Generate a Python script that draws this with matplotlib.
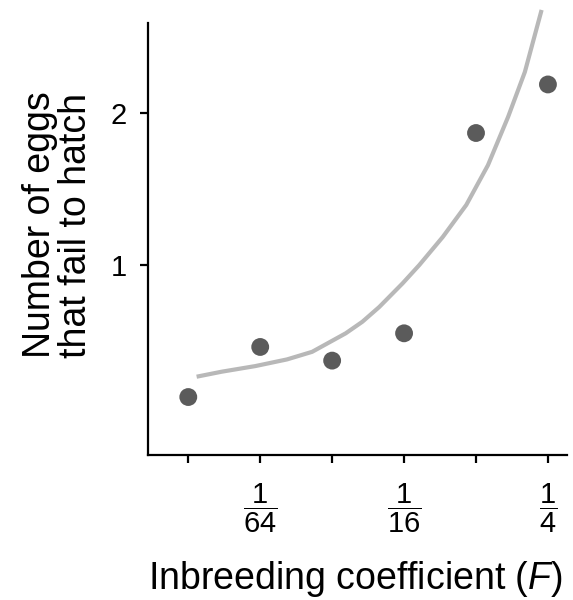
import numpy as np
import matplotlib
matplotlib.use("Agg")
import matplotlib.pyplot as plt

plt.rcParams.update({
    'font.family': 'Liberation Sans',
    'mathtext.fontset': 'custom',
    'mathtext.rm': 'Liberation Sans',
    'mathtext.it': 'Liberation Sans:italic',
    'font.size': 20,
})

# inbreeding coefficient F and mean eggs that fail to hatch
F_obs = [1/128, 1/64, 1/32, 1/16, 1/8, 1/4]
eggs_obs = [0.13, 0.46, 0.37, 0.55, 1.87, 2.19]

# fitted trend, read along its length
F_fit = [0.008466, 0.010784, 0.014906, 0.020236, 0.025774, 0.035622,
         0.041810, 0.049172, 0.061597, 0.072394, 0.090750, 0.113825,
         0.140250, 0.170288, 0.200125, 0.235200]
eggs_fit = [0.264, 0.297, 0.334, 0.378, 0.428, 0.550,
            0.626, 0.723, 0.879, 1.000, 1.185, 1.396,
            1.658, 1.976, 2.272, 2.681]

x_ticks = [1/128, 1/64, 1/32, 1/16, 1/8, 1/4]
x_labels = ['', r'$\dfrac{1}{64}$', '', r'$\dfrac{1}{16}$', '', r'$\dfrac{1}{4}$']

fig = plt.figure(figsize=(5.73, 6.0), dpi=100)
ax = fig.add_axes([148/573, 1 - 455/600, 419/573, 432/600])

ax.plot(F_fit, eggs_fit, color='#b8b8b8', lw=3.0, solid_capstyle='butt',
        solid_joinstyle='round', clip_on=False, zorder=2)
ax.scatter(F_obs, eggs_obs, s=165, color='#5b5b5b', edgecolors='none', zorder=3)

ax.set_xscale('log', base=2)
ax.set_xlim(2**-7.56, 2**-1.735)
ax.set_ylim(-0.252, 2.595)

ax.set_xticks(x_ticks)
ax.set_xticklabels(x_labels)
ax.xaxis.set_minor_locator(matplotlib.ticker.NullLocator())
ax.set_yticks([1, 2])
ax.set_yticklabels(['1', '2'])

for side in ('top', 'right'):
    ax.spines[side].set_visible(False)
for side in ('left', 'bottom'):
    ax.spines[side].set_linewidth(1.6)
ax.tick_params(direction='out', length=6, width=1.6, labelsize=21)
ax.tick_params(axis='x', pad=13)
ax.tick_params(axis='y', pad=9)

fig.text(58/573, 1 - 225/600, 'Number of eggs\nthat fail to hatch', rotation=90,
         ha='center', va='center', fontsize=27, linespacing=1.0)
fig.text(355/573, 1 - 589/600, r'Inbreeding coefficient ($F$)', ha='center',
         va='baseline', fontsize=27)

fig.savefig('out.png', dpi=100, facecolor='white')
